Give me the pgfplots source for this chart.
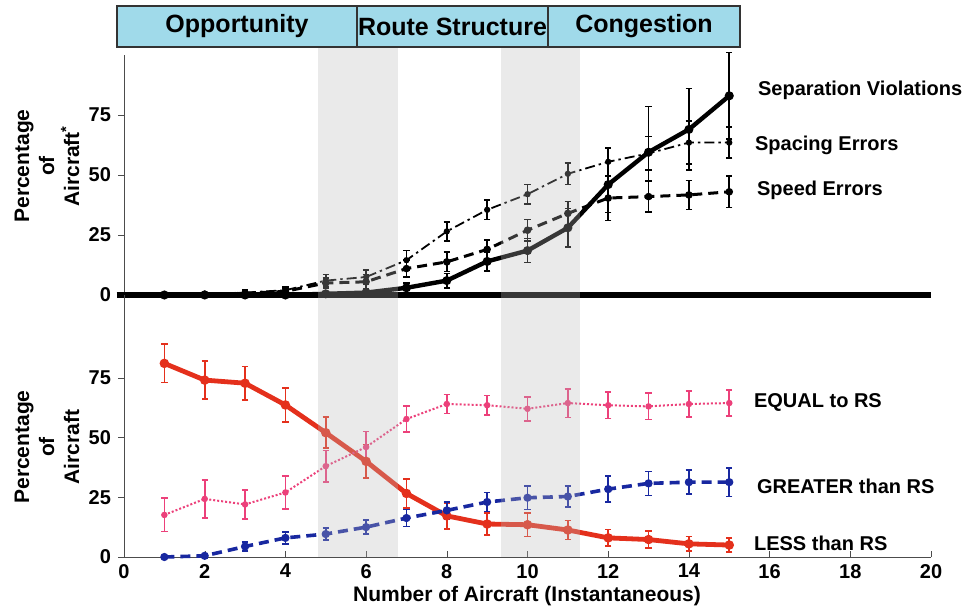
\documentclass[border=0pt]{standalone}
\usepackage{fontspec}
\setmainfont{Liberation Sans}
\usepackage{pgfplots}
\pgfplotsset{compat=1.18}

\definecolor{hdr}{RGB}{160,218,234}
\definecolor{lessred}{RGB}{228,48,28}
\definecolor{eqpink}{RGB}{236,64,122}
\definecolor{grblue}{RGB}{24,40,160}

\pgfplotsset{
  panel/.style={
    scale only axis, width=403.5pt, xmin=0, xmax=20, ymin=0,
    enlargelimits=false, clip=false, anchor=south west,
    axis y line=left, axis line style={-, black!70, line width=0.5pt},
    ytick={0,25,50,75}, ytick align=outside, tick style={black!70},
    major tick length=3pt,
    tick label style={font=\bfseries\fontsize{10}{11}\selectfont},
    /pgf/number format/assume math mode=true,
    error bars/error bar style={line width=0.8pt, solid},
    error bars/error mark options={rotate=90, mark size=1.6pt, line width=0.8pt, solid},
  },
  ebar/.style={error bars/y dir=both, error bars/y explicit,
    mark=*, mark size=1.1pt, mark options={solid}},
}

\begin{document}
\begin{tikzpicture}
\useasboundingbox (0,0) rectangle (484pt,303pt);

% upper panel: errors
\begin{axis}[panel, at={(62pt,155.5pt)}, height=120pt, ymax=100,
    axis x line=none, y axis line style={-}]
  \draw[black, line width=3pt] (axis cs:-0.18,0) -- (axis cs:20,0);
  % Separation Violations
  \addplot[black, line width=2.2pt, ebar] coordinates {
    (1,0) +- (0,0.5) (2,0) +- (0,0.5) (3,0) +- (0,0.5) (4,0) +- (0,0.5)
    (5,0.5) +- (0,0.5) (6,1) +- (0,0.8) (7,3) +- (0,2) (8,6) +- (0,3)
    (9,14) +- (0,4) (10,18.5) +- (0,5) (11,28) +- (0,8) (12,46) +- (0,15)
    (13,59.5) +- (0,19) (14,69) +- (0,17) (15,83) +- (0,18)
  };
  % Spacing Errors
  \addplot[black, line width=0.9pt, dash pattern=on 5pt off 2pt on 1.2pt off 2pt, ebar] coordinates {
    (1,0) +- (0,0.5) (2,0.5) +- (0,0.5) (3,1) +- (0,1) (4,2) +- (0,1.5)
    (5,6) +- (0,2.5) (6,7.5) +- (0,3) (7,14.5) +- (0,4) (8,26.5) +- (0,4)
    (9,35.5) +- (0,4) (10,42) +- (0,4) (11,50.5) +- (0,4.5) (12,55.5) +- (0,6)
    (13,59) +- (0,7) (14,63.5) +- (0,9) (15,63.5) +- (0,6.5)
  };
  % Speed Errors
  \addplot[black, line width=1.5pt, dash pattern=on 5pt off 3pt, ebar] coordinates {
    (1,0) +- (0,0.5) (2,0.3) +- (0,0.5) (3,0.7) +- (0,1) (4,1.5) +- (0,1.5)
    (5,5) +- (0,2) (6,5.5) +- (0,3) (7,11) +- (0,3.5) (8,13.8) +- (0,4)
    (9,19) +- (0,4) (10,27) +- (0,4.5) (11,34) +- (0,5) (12,40.4) +- (0,6)
    (13,41) +- (0,6.5) (14,41.7) +- (0,6) (15,43) +- (0,6.5)
  };
\end{axis}

% lower panel: relation to route structure
\begin{axis}[panel, at={(62pt,24.5pt)}, height=131pt, ymax=109.6,
    axis x line=bottom, x axis line style={-}, y axis line style={-},
    xtick={0,2,...,20}, xtick align=inside]
  % LESS than RS
  \addplot[lessred, line width=2.4pt, ebar] coordinates {
    (1,81) +- (0,8) (2,74) +- (0,8) (3,72.7) +- (0,7) (4,63.6) +- (0,7)
    (5,52) +- (0,6.5) (6,40) +- (0,7) (7,26.6) +- (0,6) (8,17.2) +- (0,5.5)
    (9,13.8) +- (0,4.5) (10,13.5) +- (0,5) (11,11.3) +- (0,4) (12,8) +- (0,3.5)
    (13,7.3) +- (0,3.5) (14,5.5) +- (0,3) (15,5) +- (0,3)
  };
  % EQUAL to RS
  \addplot[eqpink, line width=1pt, dash pattern=on 1pt off 1pt, ebar] coordinates {
    (1,17.6) +- (0,7) (2,24.3) +- (0,8) (3,22) +- (0,6) (4,27) +- (0,7)
    (5,38) +- (0,6.5) (6,46) +- (0,6.5) (7,57.7) +- (0,5.5) (8,64) +- (0,4)
    (9,63.5) +- (0,4) (10,62) +- (0,5) (11,64.4) +- (0,6) (12,63.5) +- (0,5.5)
    (13,63) +- (0,5.5) (14,64) +- (0,5.5) (15,64.4) +- (0,5.5)
  };
  % GREATER than RS
  \addplot[grblue, line width=1.8pt, dash pattern=on 5pt off 3pt, ebar] coordinates {
    (1,0) +- (0,0.5) (2,0.5) +- (0,1) (3,4.4) +- (0,2) (4,8) +- (0,2.5)
    (5,9.6) +- (0,2.5) (6,12.5) +- (0,3) (7,16.3) +- (0,3.5) (8,19.5) +- (0,3.5)
    (9,23) +- (0,4) (10,24.8) +- (0,5) (11,25.3) +- (0,4.5) (12,28.4) +- (0,5.5)
    (13,30.8) +- (0,5) (14,31.3) +- (0,5) (15,31.3) +- (0,6)
  };
\end{axis}

% decorations in reference-pixel units
\begin{scope}[x=0.5pt, y=0.5pt]
% shaded transition bands
\fill[gray!55, opacity=0.3] (318,558) rectangle (398,49);
\fill[gray!55, opacity=0.3] (501,558) rectangle (580,49);

% phase headers
\begin{scope}[font=\bfseries\fontsize{12.5}{14}\selectfont]
  \draw[black!80, fill=hdr, line width=0.6pt] (117,559) rectangle (357,600);
  \draw[black!80, fill=hdr, line width=0.6pt] (357,559) rectangle (548,600);
  \draw[black!80, fill=hdr, line width=0.6pt] (548,559) rectangle (740,600);
  \node at (237,579.5) {Opportunity};
  \node at (452.5,579.5) {Route Structure};
  \node at (644,579.5) {Congestion};
\end{scope}

% axis titles
\begin{scope}[font=\bfseries\fontsize{10.5}{12.5}\selectfont]
  \node[rotate=90, align=center] at (47,440) {Percentage\\of\\Aircraft\textsuperscript{*}};
  \node[rotate=90, align=center] at (47,159) {Percentage\\of\\Aircraft};
  \node at (527,10) {Number of Aircraft (Instantaneous)};
\end{scope}

% series labels
\begin{scope}[font=\bfseries\fontsize{10}{12}\selectfont]
  \node[anchor=west] at (751,516) {Separation Violations};
  \node[anchor=west] at (748,461) {Spacing Errors};
  \node[anchor=west] at (750,416) {Speed Errors};
  \node[anchor=west] at (747,204) {EQUAL to RS};
  \node[anchor=west] at (750,120) {GREATER than RS};
  \node[anchor=west] at (747,63) {LESS than RS};
\end{scope}
\end{scope}
\end{tikzpicture}
\end{document}
